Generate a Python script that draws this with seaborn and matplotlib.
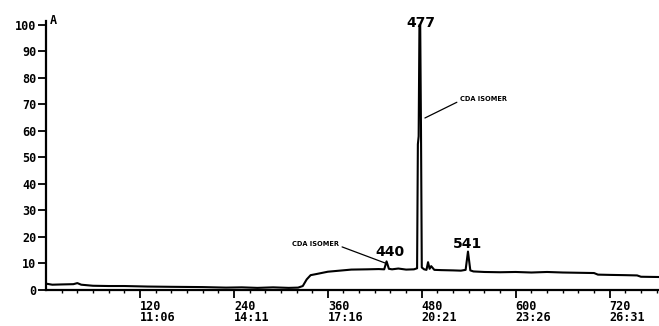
import matplotlib
matplotlib.use("Agg")
import matplotlib.pyplot as plt
import seaborn as sns
import pandas as pd

# ---- data (scan number vs relative abundance %) ----
scans = [0, 8, 20, 35, 40, 45, 60, 80, 100, 130, 160, 200, 230, 250, 270, 290,
         310, 322, 328, 333, 338, 345, 360, 375, 390, 410, 425, 432, 435, 438,
         442, 450, 460, 470, 474, 475, 476, 477, 478, 479, 480, 483, 486, 488,
         490, 492, 496, 505, 520, 530, 536, 539, 542, 546, 560, 580, 600, 620,
         640, 660, 680, 700, 705, 720, 740, 755, 760, 783]
abundance = [2.4, 2.0, 2.1, 2.2, 2.6, 2.0, 1.6, 1.5, 1.5, 1.3, 1.2, 1.1, 0.9, 1.0, 0.8, 1.0,
             0.8, 0.9, 1.5, 4.0, 5.6, 6.0, 6.9, 7.3, 7.7, 7.8, 7.9, 7.8, 10.8, 8.0,
             7.8, 8.1, 7.7, 7.8, 8.2, 55.0, 58.0, 100.0, 100.0, 60.0, 8.5, 7.8, 7.6, 10.5,
             8.0, 9.0, 7.6, 7.5, 7.4, 7.3, 7.6, 14.5, 7.4, 7.0, 6.8, 6.7, 6.8, 6.6,
             6.8, 6.6, 6.5, 6.4, 5.8, 5.7, 5.6, 5.5, 5.0, 4.9]

xtick_scans = [120, 240, 360, 480, 600, 720]
xtick_times = ["11:06", "14:11", "17:16", "20:21", "23:26", "26:31"]
ytick_vals = [0, 10, 20, 30, 40, 50, 60, 70, 80, 90, 100]

peak_labels = ["440", "477", "541"]
peak_label_pos = [(439, 14.3), (479, 100.8), (538, 17.4)]

df = pd.DataFrame({"scan": scans, "abundance": abundance})

sns.set_style("ticks")
plt.rcParams["font.family"] = ["DejaVu Sans Mono", "DejaVu Sans"]
plt.rcParams["text.color"] = "black"
plt.rcParams["xtick.color"] = "black"
plt.rcParams["ytick.color"] = "black"

fig = plt.figure(figsize=(6.59, 3.26), dpi=100)
ax = fig.add_axes([46 / 659, 36 / 326, 1 - 46 / 659, 269 / 326])

sns.lineplot(data=df, x="scan", y="abundance", ax=ax, color="black",
             linewidth=1.5, estimator=None, sort=False)

ax.set_xlim(0, 783)
ax.set_ylim(0, 101.5)
ax.set_xlabel("")
ax.set_ylabel("")

for s in ["top", "right"]:
    ax.spines[s].set_visible(False)
for s in ["left", "bottom"]:
    ax.spines[s].set_linewidth(1.6)
    ax.spines[s].set_color("black")

ax.set_yticks(ytick_vals)
ax.set_yticklabels([str(v) for v in ytick_vals], fontsize=8.5, fontweight="bold")
ax.tick_params(axis="y", length=6, width=1.3, pad=1, colors="black")

ax.set_xticks(xtick_scans)
ax.set_xticklabels([f"{s}\n{t}" for s, t in zip(xtick_scans, xtick_times)],
                   fontsize=8.5, fontweight="bold", ha="left", linespacing=0.85)
ax.set_xticks(list(range(20, 783, 20)), minor=True)
ax.tick_params(axis="x", which="major", length=6, width=1.3, pad=1, colors="black")
ax.tick_params(axis="x", which="minor", length=2.5, width=1.0, colors="black")

ax.text(5, 101.5, "A", fontsize=8.5, fontweight="bold", va="center", ha="left",
        color="black", clip_on=False)

for lab, (px, py) in zip(peak_labels, peak_label_pos):
    ax.text(px, py, lab, fontsize=10, fontweight="bold", family="DejaVu Sans",
            ha="center", va="center", color="black", clip_on=False)

ax.annotate("CDA ISOMER", xy=(433, 10.2), xytext=(344, 17.4),
            fontsize=4.8, fontweight="bold", family="DejaVu Sans", color="black",
            ha="center", va="center",
            arrowprops=dict(arrowstyle="-", color="black", lw=0.9,
                            shrinkA=0, shrinkB=0, relpos=(1.0, 0.2)))
ax.annotate("CDA ISOMER", xy=(484, 64.9), xytext=(559, 71.9),
            fontsize=4.8, fontweight="bold", family="DejaVu Sans", color="black",
            ha="center", va="center",
            arrowprops=dict(arrowstyle="-", color="black", lw=0.9,
                            shrinkA=0, shrinkB=0, relpos=(0.0, 0.3)))

fig.savefig("out.png", dpi=100)
